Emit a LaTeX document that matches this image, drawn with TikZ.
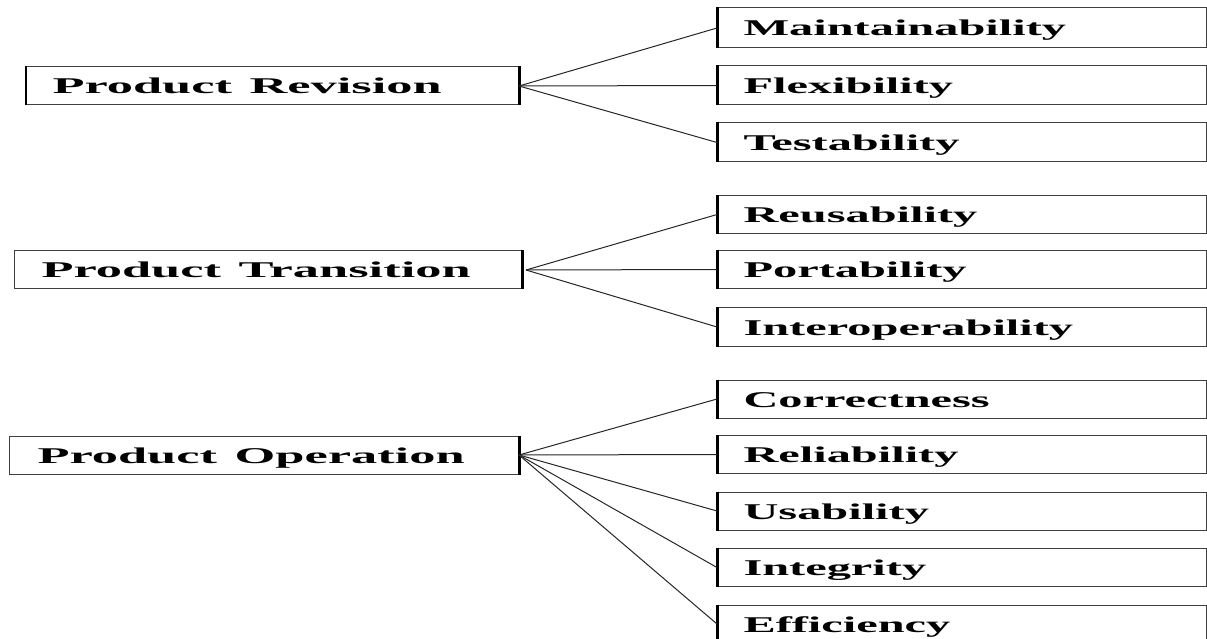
\documentclass[tikz,border=0pt]{standalone}
\usepackage{fontspec}
\usepackage{graphicx}
\setmainfont{Liberation Serif}
\newcommand\rlab[1]{\scalebox{2.15}[1]{#1}}
\newcommand\llab[1]{\scalebox{2.33}[1]{#1}}
\tikzset{
  box/.style={draw=black!75, line width=1bp, anchor=west, minimum height=38bp,
    inner xsep=26bp, text height=16bp, text depth=0bp, align=left,
    font=\fontsize{22.5bp}{26bp}\selectfont\bfseries},
  link/.style={draw=black!85, line width=1bp},
  edgebar/.style={line width=3bp, black},
}
\begin{document}
\begin{tikzpicture}[x=1bp, y=-1bp]
\path[use as bounding box, clip] (0,0) rectangle (1207,639);

% group heads
\node[box, text width=440bp] (rev) at (26,86) {\llab{Product Revision}};
\node[box, text width=453bp, inner xsep=27bp] (tra) at (14,270) {\llab{Product Transition}};
\node[box, text width=453bp, inner xsep=28bp] (ope) at (9,455) {\llab{Product Operation}};

% quality factors
\node[box, text width=437bp, minimum height=40bp] (mai) at (717,28) {\rlab{Maintainability}};
\node[box, text width=437bp, minimum height=39bp] (fle) at (717,85.5) {\rlab{Flexibility}};
\node[box, text width=437bp, minimum height=39bp] (tes) at (717,142.5) {\rlab{Testability}};
\node[box, text width=437bp] (reu) at (717,214.5) {\rlab{Reusability}};
\node[box, text width=437bp] (por) at (717,269.5) {\rlab{Portability}};
\node[box, text width=437bp] (int) at (717,327) {\rlab{Interoperability}};
\node[box, text width=437bp] (cor) at (717,399) {\rlab{Correctness}};
\node[box, text width=437bp] (rel) at (717,454.5) {\rlab{Reliability}};
\node[box, text width=437bp] (usa) at (717,511) {\rlab{Usability}};
\node[box, text width=437bp] (ing) at (717,567.5) {\rlab{Integrity}};
\node[box, text width=437bp] (eff) at (717,624) {\rlab{Efficiency}};

% heavy edges on the connected sides
\foreach \n in {rev,tra,ope}
  \draw[edgebar] (\n.north east) -- (\n.south east);
\draw[line width=2bp] (rev.north west) -- (rev.south west);
\foreach \n in {mai,fle,tes,reu,por,int,cor,rel,usa,ing,eff}
  \draw[edgebar] (\n.north west) -- (\n.south west);

% connectors
\foreach \n in {mai,fle,tes} \draw[link] (rev.east) -- (\n.west);
\foreach \n in {reu,por,int} \draw[link] ([xshift=4bp]tra.east) -- (\n.west);
\foreach \n in {cor,rel,usa,ing,eff} \draw[link] (ope.east) -- (\n.west);
\end{tikzpicture}
\end{document}
